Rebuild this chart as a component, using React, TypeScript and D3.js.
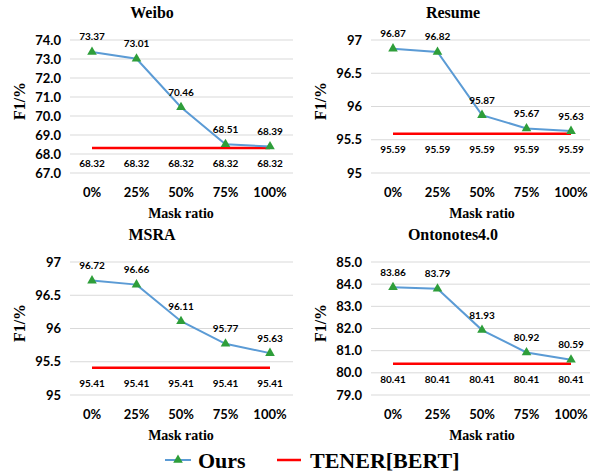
import React from "react";
import * as d3 from "d3";

const categories = ["0%", "25%", "50%", "75%", "100%"];
const panelTitles = ["Weibo", "Resume", "MSRA", "Ontonotes4.0"];
const oursWeibo = [73.37, 73.01, 70.46, 68.51, 68.39];
const oursResume = [96.87, 96.82, 95.87, 95.67, 95.63];
const oursMsra = [96.72, 96.66, 96.11, 95.77, 95.63];
const oursOnto = [83.86, 83.79, 81.93, 80.92, 80.59];
const tenerWeibo = [68.32, 68.32, 68.32, 68.32, 68.32];
const tenerResume = [95.59, 95.59, 95.59, 95.59, 95.59];
const tenerMsra = [95.41, 95.41, 95.41, 95.41, 95.41];
const tenerOnto = [80.41, 80.41, 80.41, 80.41, 80.41];
const ticksWeibo = [67, 68, 69, 70, 71, 72, 73, 74];
const ticksResume = [95, 95.5, 96, 96.5, 97];
const ticksMsra = [95, 95.5, 96, 96.5, 97];
const ticksOnto = [79, 80, 81, 82, 83, 84, 85];
const seriesNames = ["Ours", "TENER[BERT]"];

const BLUE = "#5B9BD5";
const GREEN = "#2E9E3A";
const RED = "#FF0000";
const GRID = "#D9D9D9";
const SANS = "Lato, 'Open Sans', sans-serif";
const SERIF = "'Liberation Serif', 'DejaVu Serif', serif";

type PanelProps = {
  title: string;
  ox: number;
  oy: number;
  ours: number[];
  tener: number[];
  ticks: number[];
  fmt: (v: number) => string;
};

function Panel({ title, ox, oy, ours, tener, ticks, fmt }: PanelProps) {
  const x = d3.scalePoint<string>().domain(categories).range([92, 270]);
  const left = 70;
  const right = 293;
  const y = d3
    .scaleLinear()
    .domain([ticks[0], ticks[ticks.length - 1]])
    .range([173, 40]);
  const line = d3
    .line<number>()
    .x((_, i) => x(categories[i]) as number)
    .y((d) => y(d));
  const tri = d3.symbol().type(d3.symbolTriangle).size(40)();
  return (
    <g transform={`translate(${ox},${oy})`}>
      <text x={152} y={18} textAnchor="middle" fontFamily={SERIF} fontWeight="bold" fontSize={16}>
        {title}
      </text>
      {ticks.map((t) => (
        <g key={t}>
          <line x1={left} x2={right} y1={y(t)} y2={y(t)} stroke={GRID} strokeWidth={1} />
          <text x={61} y={y(t)} dy="0.35em" textAnchor="end" fontFamily={SANS} fontWeight="bold" fontSize={13}>
            {fmt(t)}
          </text>
        </g>
      ))}
      <text
        transform={`translate(19,101) rotate(-90)`}
        textAnchor="middle"
        dy="0.35em"
        fontFamily={SERIF}
        fontWeight="bold"
        fontSize={16}
      >
        F1/%
      </text>
      {categories.map((c) => (
        <text key={c} x={x(c)} y={192} dy="0.35em" textAnchor="middle" fontFamily={SANS} fontWeight="bold" fontSize={13}>
          {c}
        </text>
      ))}
      <text x={181} y={213} dy="0.35em" textAnchor="middle" fontFamily={SERIF} fontWeight="bold" fontSize={14}>
        Mask ratio
      </text>
      <path d={line(tener) || ""} fill="none" stroke={RED} strokeWidth={2.5} />
      <path d={line(ours) || ""} fill="none" stroke={BLUE} strokeWidth={2} />
      {ours.map((v, i) => (
        <path key={i} d={tri || ""} transform={`translate(${x(categories[i])},${y(v)})`} fill={GREEN} />
      ))}
      {ours.map((v, i) => (
        <text key={"o" + i} x={x(categories[i])} y={y(v) - 15} dy="0.35em" textAnchor="middle" fontFamily={SANS} fontWeight="bold" fontSize={10}>
          {v.toFixed(2)}
        </text>
      ))}
      {tener.map((v, i) => (
        <text key={"t" + i} x={x(categories[i])} y={y(v) + 16} dy="0.35em" textAnchor="middle" fontFamily={SANS} fontWeight="bold" fontSize={10}>
          {v.toFixed(2)}
        </text>
      ))}
    </g>
  );
}

export default function App() {
  const fmt1 = d3.format(".1f");
  const fmtG = (v: number) => String(v);
  const tri = d3.symbol().type(d3.symbolTriangle).size(40)();
  return (
    <svg width={590} height={473} style={{ position: "absolute", left: 0, top: 0, background: "#fff" }}>
      <rect width={590} height={473} fill="#fff" />
      <Panel title={panelTitles[0]} ox={0} oy={0} ours={oursWeibo} tener={tenerWeibo} ticks={ticksWeibo} fmt={fmt1} />
      <Panel title={panelTitles[1]} ox={301} oy={0} ours={oursResume} tener={tenerResume} ticks={ticksResume} fmt={fmtG} />
      <Panel title={panelTitles[2]} ox={0} oy={222} ours={oursMsra} tener={tenerMsra} ticks={ticksMsra} fmt={fmtG} />
      <Panel title={panelTitles[3]} ox={301} oy={222} ours={oursOnto} tener={tenerOnto} ticks={ticksOnto} fmt={fmt1} />
      <g>
        <line x1={165} x2={191} y1={460} y2={460} stroke={BLUE} strokeWidth={2} />
        <path d={tri || ""} transform="translate(178,460)" fill={GREEN} />
        <text x={198} y={460} dy="0.35em" fontFamily={SERIF} fontWeight="bold" fontSize={22}>
          {seriesNames[0]}
        </text>
        <line x1={277} x2={301} y1={460} y2={460} stroke={RED} strokeWidth={2.5} />
        <text x={310} y={460} dy="0.35em" fontFamily={SERIF} fontWeight="bold" fontSize={22}>
          {seriesNames[1]}
        </text>
      </g>
    </svg>
  );
}
